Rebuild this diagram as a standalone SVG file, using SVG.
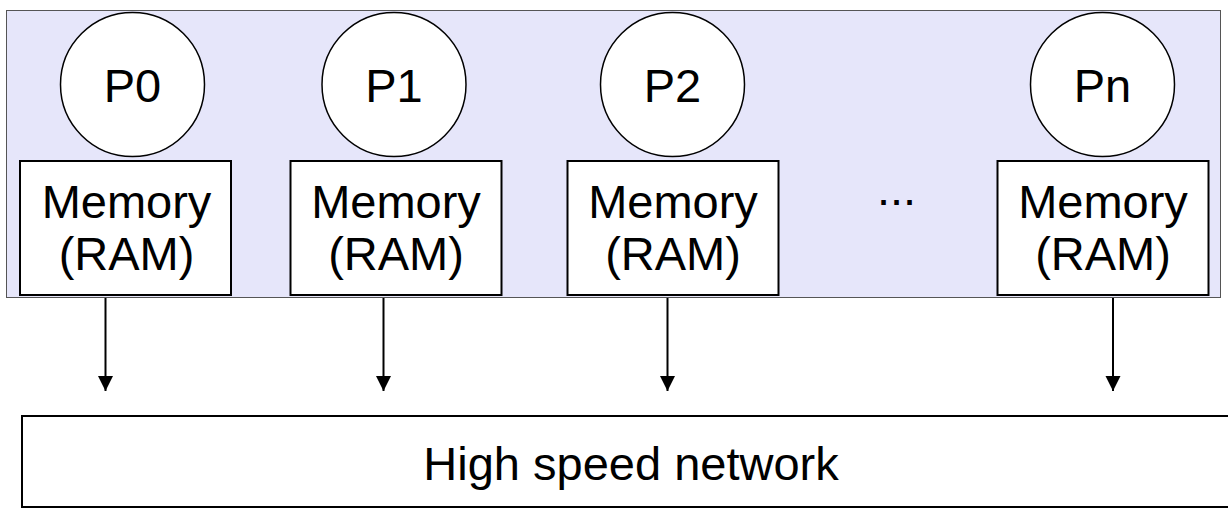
<svg xmlns="http://www.w3.org/2000/svg" width="1228" height="509" viewBox="0 0 1228 509">
  <defs>
    <style>
      .lbl { font-family: "Liberation Sans", Arial, sans-serif; font-size: 47px; fill: #000; text-anchor: middle; }
      .proc { fill: #fff; stroke: #000; stroke-width: 1.5; }
      .mem { fill: #fff; stroke: #000; stroke-width: 2; }
      .link { stroke: #000; stroke-width: 2; fill: none; marker-end: url(#head); }
    </style>
    <marker id="head" markerUnits="userSpaceOnUse" markerWidth="16" markerHeight="16" viewBox="0 0 16 16" refX="15" refY="8" orient="auto">
      <path d="M0,0.5 L15,8 L0,15.5 Z" fill="#000"/>
    </marker>
  </defs>

  <!-- node enclosure: processors with local memory -->
  <g id="cluster">
    <rect x="6.5" y="10.5" width="1214" height="287" fill="#e6e6fa" stroke="#555" stroke-width="1"/>
  </g>

  <g id="p0">
    <circle class="proc" cx="132.5" cy="84.5" r="72"/>
    <text class="lbl" x="132.5" y="101.5">P0</text>
  </g>
  <g id="mem0">
    <rect class="mem" x="20" y="161" width="211" height="134"/>
    <text class="lbl" x="126.5" y="218">Memory</text>
    <text class="lbl" x="126.5" y="270">(RAM)</text>
  </g>

  <g id="p1">
    <circle class="proc" cx="394" cy="84.5" r="72"/>
    <text class="lbl" x="394" y="101.5">P1</text>
  </g>
  <g id="mem1">
    <rect class="mem" x="290.5" y="161" width="211" height="134"/>
    <text class="lbl" x="396" y="218">Memory</text>
    <text class="lbl" x="396" y="270">(RAM)</text>
  </g>

  <g id="p2">
    <circle class="proc" cx="672.5" cy="84.5" r="72"/>
    <text class="lbl" x="672.5" y="101.5">P2</text>
  </g>
  <g id="mem2">
    <rect class="mem" x="567.5" y="161" width="211" height="134"/>
    <text class="lbl" x="673" y="218">Memory</text>
    <text class="lbl" x="673" y="270">(RAM)</text>
  </g>

  <g id="ellipsis">
    <text class="lbl" x="896.5" y="205">...</text>
  </g>

  <g id="pn">
    <circle class="proc" cx="1102.5" cy="84.5" r="72"/>
    <text class="lbl" x="1102.5" y="101.5">Pn</text>
  </g>
  <g id="memn">
    <rect class="mem" x="997.5" y="161" width="211" height="134"/>
    <text class="lbl" x="1103" y="218">Memory</text>
    <text class="lbl" x="1103" y="270">(RAM)</text>
  </g>

  <!-- interconnect -->
  <g id="network">
    <rect x="22" y="416" width="1230" height="91" fill="#fff" stroke="#000" stroke-width="2"/>
    <text class="lbl" x="631" y="480">High speed network</text>
  </g>

  <!-- memory-to-network links -->
  <g id="connectors">
    <line class="link" x1="105.5" y1="298" x2="105.5" y2="391"/>
    <line class="link" x1="383.5" y1="298" x2="383.5" y2="391"/>
    <line class="link" x1="667.5" y1="298" x2="667.5" y2="391"/>
    <line class="link" x1="1113" y1="298" x2="1113" y2="391"/>
  </g>
</svg>
